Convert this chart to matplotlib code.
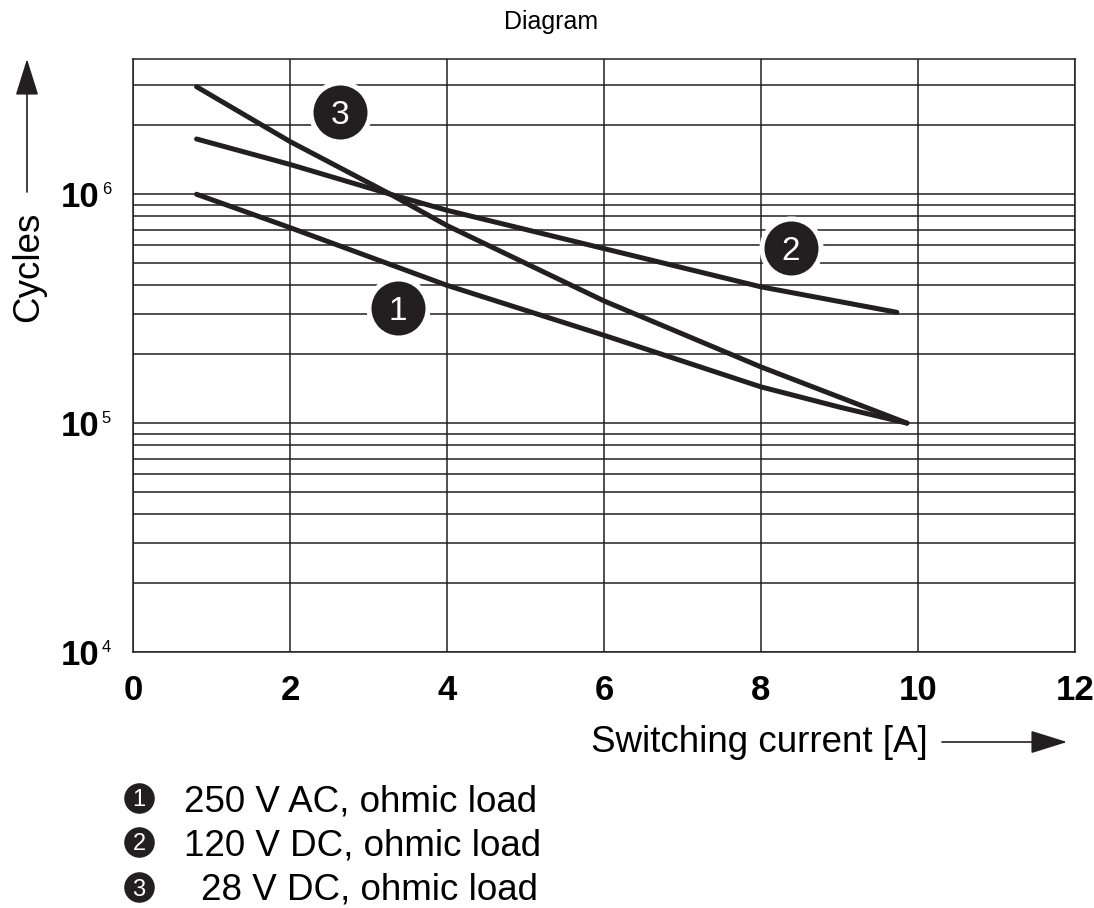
import matplotlib
matplotlib.use('Agg')
import matplotlib.pyplot as plt
from matplotlib.ticker import LogLocator, NullFormatter
from matplotlib.lines import Line2D

plt.rcParams['font.family'] = ['Liberation Sans', 'DejaVu Sans']

# data (x in A, y in cycles)
curve1_x = [0.81, 2, 4, 6, 8, 9, 9.86]
curve1_y = [1.0e6, 7.15e5, 4.0e5, 2.42e5, 1.44e5, 1.175e5, 1.0e5]

curve2_x = [0.81, 2, 3.28, 4, 6, 8, 9.73]
curve2_y = [1.744e6, 1.35e6, 1.0e6, 8.51e5, 5.79e5, 3.94e5, 3.05e5]

curve3_x = [0.81, 2, 3.28, 4, 6, 8, 9.86]
curve3_y = [2.95e6, 1.70e6, 1.0e6, 7.3e5, 3.42e5, 1.76e5, 1.0e5]

label_nums = ['1', '2', '3']
label_x = [3.37, 8.38, 2.64]
label_y = [3.18e5, 5.8e5, 2.28e6]

legend_texts = ['250 V AC, ohmic load', '120 V DC, ohmic load', '28 V DC, ohmic load']

x_ticks = [0, 2, 4, 6, 8, 10, 12]
y_ticks = [1e4, 1e5, 1e6]
y_exps = ['4', '5', '6']

ink = '#231f20'

fig = plt.figure(figsize=(10.94, 9.08), dpi=100)
ax = fig.add_axes([133 / 1094, 1 - 652 / 908, (1075 - 133) / 1094, (652 - 59) / 908])

for xs, ys in [(curve1_x, curve1_y), (curve2_x, curve2_y), (curve3_x, curve3_y)]:
    ax.plot(xs, ys, color=ink, lw=3.6, solid_capstyle='round', solid_joinstyle='round', zorder=3)

# numbered circles on the curves
for n, xv, yv in zip(label_nums, label_x, label_y):
    ax.plot([xv], [yv], marker='o', ms=42.5, mfc=ink, mec='white', mew=3.6, zorder=4)
    ax.text(xv, yv, n, color='white', fontsize=24, ha='center', va='center_baseline', zorder=5)

ax.set_yscale('log')
ax.set_xlim(0, 12)
ax.set_ylim(1e4, 3.9e6)

ax.set_xticks(x_ticks)
ax.set_xticklabels([str(t) for t in x_ticks], fontsize=25, fontweight='bold')
ax.set_yticks(y_ticks)
ax.set_yticklabels(['10'] * len(y_ticks), fontsize=25, fontweight='bold')
ax.yaxis.set_minor_locator(LogLocator(base=10, subs=range(2, 10)))
ax.yaxis.set_minor_formatter(NullFormatter())
ax.tick_params(axis='both', which='both', length=0)
ax.tick_params(axis='x', pad=16)
ax.tick_params(axis='y', pad=24)

for val, e in zip(y_ticks, y_exps):
    ax.annotate(e, xy=(0, val), xycoords=ax.get_yaxis_transform(),
                xytext=(-22.5, 9), textcoords='offset points',
                ha='left', va='top', fontsize=12)

ax.grid(which='both', axis='y', color=ink, lw=1.1)
ax.grid(which='major', axis='x', color=ink, lw=1.1)
ax.set_axisbelow(True)
for s in ax.spines.values():
    s.set_color(ink)
    s.set_linewidth(1.1)

# title and axis labels with arrows
fig.text(551, 886, 'Diagram', transform=None, fontsize=18, ha='center', va='center')

fig.text(928, 166, 'Switching current [A]', transform=None, fontsize=26.5, ha='right', va='center')
ax.annotate('', xy=(1067, 166), xytext=(942, 166), xycoords='figure pixels',
            arrowprops=dict(arrowstyle='-|>,head_length=1.15,head_width=0.36',
                            mutation_scale=20, color=ink, lw=1.2, shrinkA=0, shrinkB=0))

fig.text(29, 641, 'Cycles', transform=None, fontsize=26.5, rotation=90, ha='center', va='center')
ax.annotate('', xy=(27, 849), xytext=(27, 716), xycoords='figure pixels',
            arrowprops=dict(arrowstyle='-|>,head_length=1.15,head_width=0.36',
                            mutation_scale=20, color=ink, lw=1.2, shrinkA=0, shrinkB=0))

# legend below the chart
leg_rows = [110, 66, 21]
leg_text_x = [184, 184, 201]
leg_base = [96, 52, 8]
for n, t, ry, tx, by in zip(label_nums, legend_texts, leg_rows, leg_text_x, leg_base):
    fig.add_artist(Line2D([139], [ry], marker='o', ms=22, mfc=ink, mec=ink, mew=0,
                          transform=None))
    fig.text(139, ry, n, transform=None, color='white', fontsize=17,
             ha='center', va='center_baseline')
    fig.text(tx, by, t, transform=None, fontsize=26.5, ha='left', va='baseline')

fig.savefig('out.png', dpi=100)
